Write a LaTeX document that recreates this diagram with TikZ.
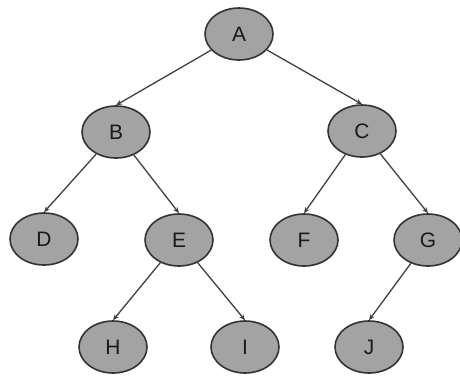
\documentclass[tikz,border=0pt]{standalone}
\usepackage{fontspec}
\setmainfont{Liberation Sans}
\usetikzlibrary{arrows.meta,shapes.geometric}
\begin{document}
\begin{tikzpicture}[x=1bp,y=-1bp,
  treenode/.style={ellipse,draw=black!80,line width=1.6bp,fill=black!36,
    minimum width=68bp,minimum height=52bp,inner sep=0pt,
    font=\fontsize{21}{25}\selectfont,text=black!90},
  edge/.style={draw=black!75,line width=1.3bp,-{Stealth[length=6bp,width=5bp]}}]
\useasboundingbox (0,0) rectangle (460,381);
\node[treenode] (A) at (239,34) {A};
\node[treenode] (B) at (116,132) {B};
\node[treenode] (C) at (362,131) {C};
\node[treenode] (D) at (44,239) {D};
\node[treenode] (E) at (179,240) {E};
\node[treenode] (F) at (304,240) {F};
\node[treenode] (G) at (428,240) {G};
\node[treenode] (H) at (113,347) {H};
\node[treenode] (I) at (245,347) {I};
\node[treenode] (J) at (369,347) {J};
\draw[edge] (A) -- (B.north);
\draw[edge] (A) -- (C.north);
\draw[edge] (B) -- (D.north);
\draw[edge] (B) -- (E.north);
\draw[edge] (C) -- (F.north);
\draw[edge] (C) -- (G.north);
\draw[edge] (E) -- (H.north);
\draw[edge] (E) -- (I.north);
\draw[edge] (G) -- (J.north);
\end{tikzpicture}
\end{document}
